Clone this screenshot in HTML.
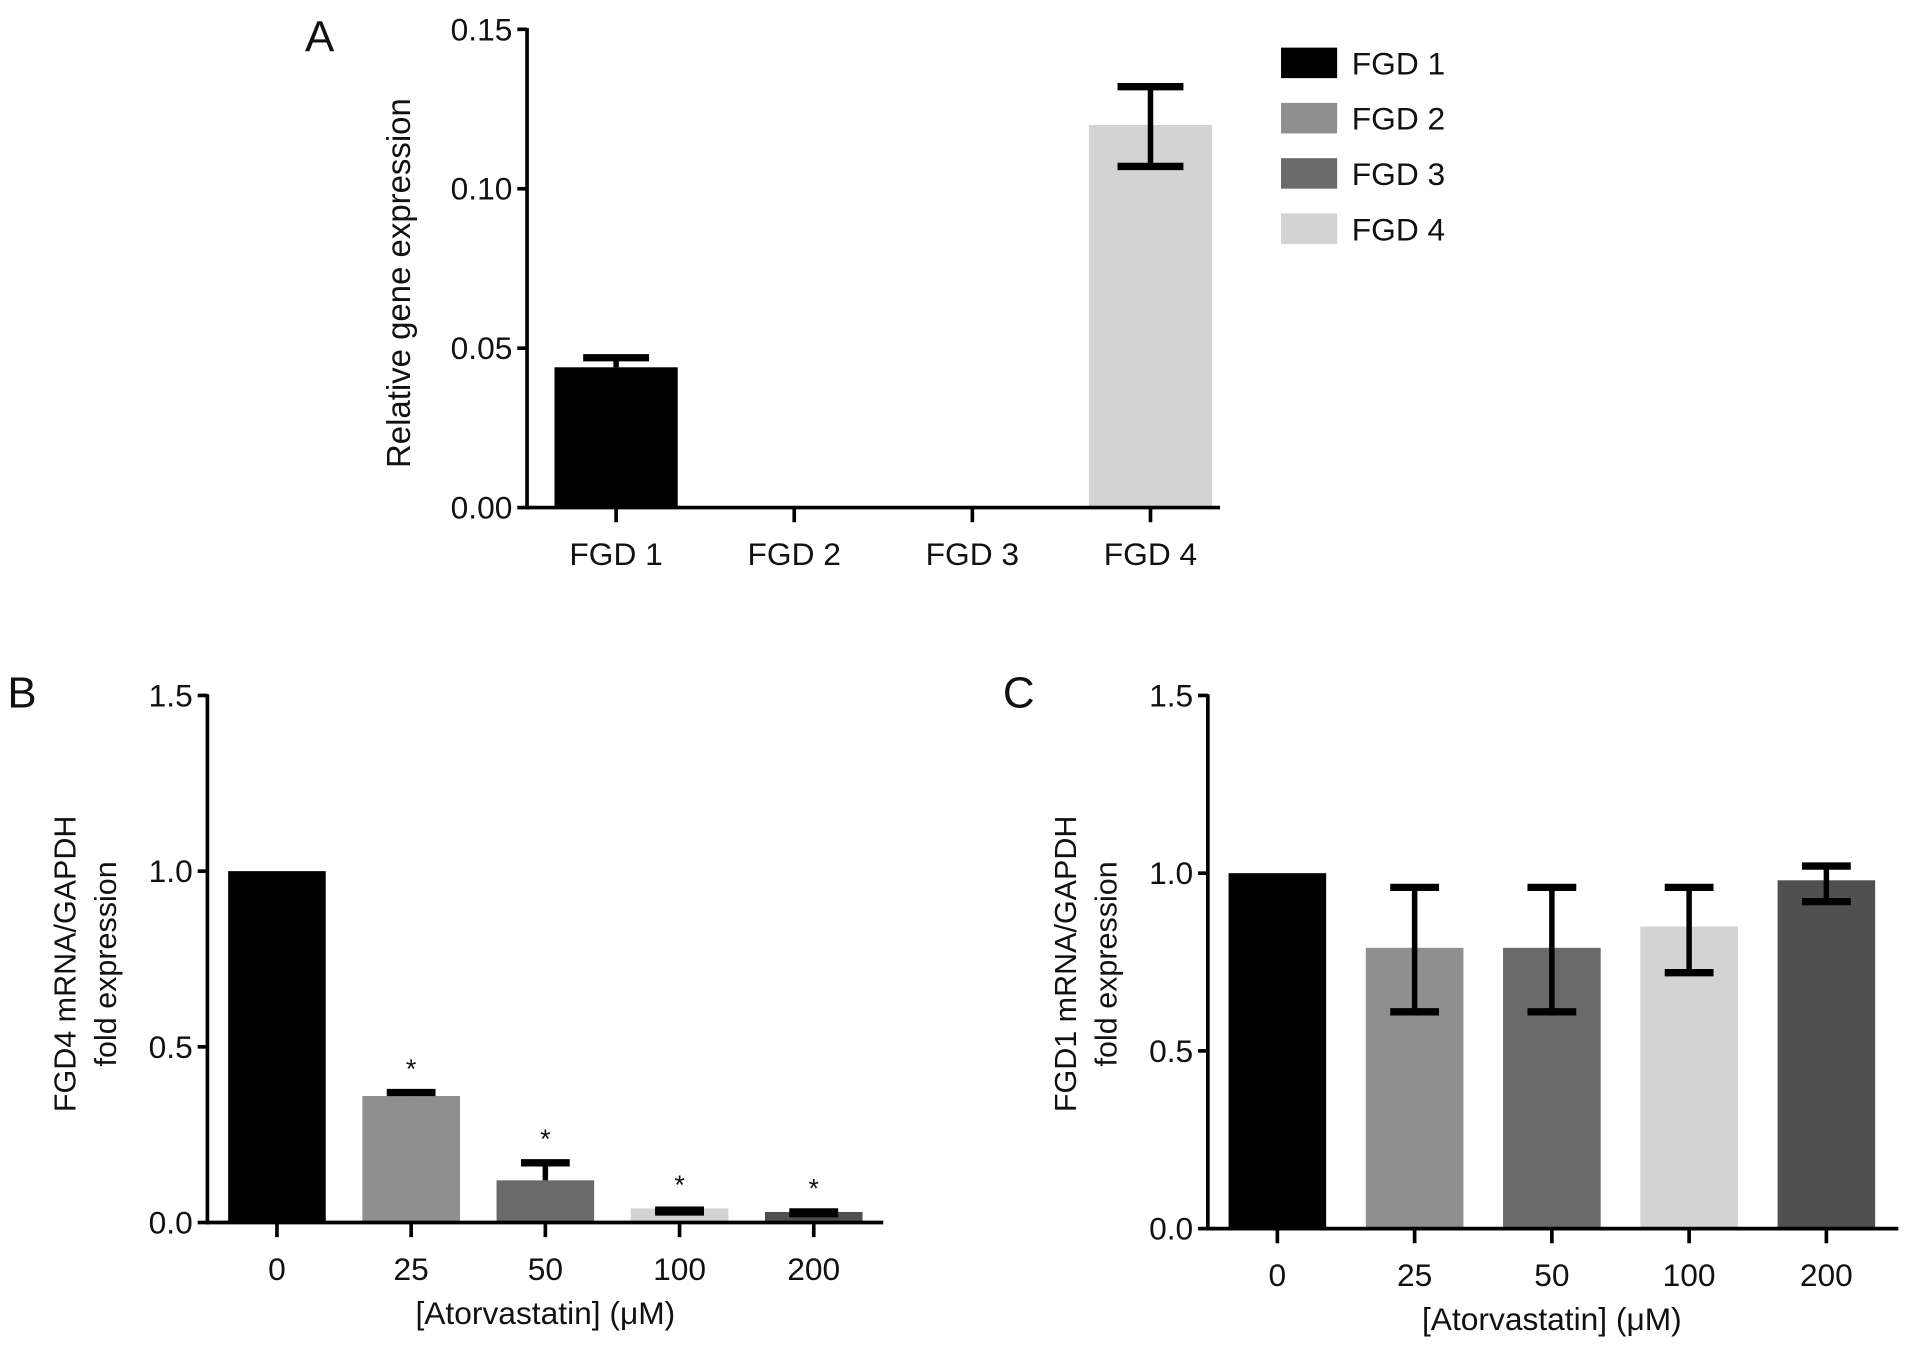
<!DOCTYPE html>
<html><head><meta charset="utf-8"><style>
html,body{margin:0;padding:0;background:#fff}
svg{display:block}
text{font-family:"Liberation Sans",Arial,sans-serif;fill:#111}
</style></head><body>
<svg id="fig" width="1913" height="1347" viewBox="0 0 1568 1104" xmlns="http://www.w3.org/2000/svg"></svg>
<script>
// Panel A data
const aCats = ["FGD 1","FGD 2","FGD 3","FGD 4"];
const aVals = [0.044, 0, 0, 0.120];
const aErrLo = [0.044, 0, 0, 0.107];
const aErrHi = [0.047, 0, 0, 0.132];
const aTicks = [0, 0.05, 0.10, 0.15];
const aTickLabels = ["0.00","0.05","0.10","0.15"];
const aColors = ["#000000","#8f8f8f","#6a6a6a","#d3d3d3"];
// Panel B data
const bCats = ["0","25","50","100","200"];
const bVals = [1.0, 0.36, 0.12, 0.04, 0.03];
const bErrLo = [1.0, 0.36, 0.12, 0.03, 0.025];
const bErrHi = [1.0, 0.37, 0.17, 0.035, 0.03];
const bStars = [false, true, true, true, true];
// Panel C data
const cCats = ["0","25","50","100","200"];
const cVals = [1.0, 0.79, 0.79, 0.85, 0.98];
const cErrLo = [1.0, 0.61, 0.61, 0.72, 0.92];
const cErrHi = [1.0, 0.96, 0.96, 0.96, 1.02];
const bcTicks = [0, 0.5, 1.0, 1.5];
const bcTickLabels = ["0.0","0.5","1.0","1.5"];
const bcColors = ["#000000","#8f8f8f","#6a6a6a","#d3d3d3","#505050"];

const NS="http://www.w3.org/2000/svg";
const svg=document.getElementById('fig');
function mk(tag,attrs,parent,txt){const e=document.createElementNS(NS,tag);for(const k in attrs)e.setAttribute(k,attrs[k]);if(txt!==undefined)e.textContent=txt;(parent||svg).appendChild(e);return e;}

function panel(o){
  const g=mk('g',{});
  
  
  const y=v=>o.y0-(v/o.ymax)*(o.y0-o.y1);
  const x=i=>o.xc0+i*o.dx;
  o.vals.forEach((v,i)=>{
    if(v<=0)return;
    const r=mk('rect',{x:x(i)-o.bw/2,y:y(v),width:o.bw,height:o.y0-y(v),fill:o.colors[i]},g);
    
    
    if(o.hi[i]>v+1e-9||o.lo[i]<v-1e-9){
      const e=mk('g',{stroke:'#000','stroke-width':4.5,fill:'none'},g);
      
      
      mk('line',{x1:x(i),x2:x(i),y1:y(o.hi[i]),y2:y(Math.min(o.lo[i],v))},e);
      mk('line',{x1:x(i)-o.cap,x2:x(i)+o.cap,y1:y(o.hi[i]),y2:y(o.hi[i]),'stroke-width':6},e);
      if(o.lo[i]<v-1e-9) mk('line',{x1:x(i)-o.cap,x2:x(i)+o.cap,y1:y(o.lo[i]),y2:y(o.lo[i]),'stroke-width':6},e);
    }
    if(o.stars&&o.stars[i]){
      const s=mk('text',{x:x(i),y:y(Math.max(o.hi[i],v))-12,'font-size':22,'text-anchor':'middle'},g,'*');
      
      
    }
  });
  const ax=mk('g',{stroke:'#000','stroke-width':3},g);
  
  
  mk('line',{x1:o.ax,x2:o.ax,y1:o.y1-1,y2:o.y0+1.5},ax);
  mk('line',{x1:o.ax-1.5,x2:o.xend,y1:o.y0,y2:o.y0},ax);
  o.ticks.forEach((t,k)=>{
    mk('line',{x1:o.ax-8,x2:o.ax,y1:y(t),y2:y(t)},ax);
    const tl=mk('text',{x:o.ax-12,y:y(t)+9,'font-size':26,'text-anchor':'end'},g,o.tickLabels[k]);
    
    
  });
  o.cats.forEach((c,i)=>{
    mk('line',{x1:x(i),x2:x(i),y1:o.y0,y2:o.y0+12},ax);
    const tl=mk('text',{x:x(i),y:o.y0+47,'font-size':26,'text-anchor':'middle'},g,c);
    
    
  });
  o.ytitle.forEach((t,k)=>{
    const tx=o.ytx+k*33;
    const yt=mk('text',{x:tx,y:o.yty,'font-size':o.ytfs,'text-anchor':'middle',transform:`rotate(-90 ${tx} ${o.yty})`},g,t);
    
    
  });
  if(o.xtitle){
    const xt=mk('text',{x:x(2),y:o.y0+83,'font-size':26,'text-anchor':'middle'},g,o.xtitle);
    
    
  }
  const pl=mk('text',{x:o.lx,y:o.ly,'font-size':36},g,o.letter);
  
  
}

panel({name:'panel-a',cats:aCats,vals:aVals,lo:aErrLo,hi:aErrHi,colors:aColors,ticks:aTicks,tickLabels:aTickLabels,
  ymax:0.15,y0:416,y1:24,ax:432,xend:1000,xc0:505,dx:146,bw:101,cap:27,
  ytitle:["Relative gene expression"],ytfs:27,ytx:336,yty:232,letter:'A',lx:250,ly:42});
panel({name:'panel-b',cats:bCats,vals:bVals,lo:bErrLo,hi:bErrHi,colors:bcColors,ticks:bcTicks,tickLabels:bcTickLabels,stars:bStars,
  ymax:1.5,y0:1002,y1:570,ax:170,xend:724,xc0:227,dx:110,bw:80,cap:20,
  ytitle:["FGD4 mRNA/GAPDH","fold expression"],ytfs:25,ytx:62,yty:790,xtitle:"[Atorvastatin] (μM)",letter:'B',lx:6,ly:580});
panel({name:'panel-c',cats:cCats,vals:cVals,lo:cErrLo,hi:cErrHi,colors:bcColors,ticks:bcTicks,tickLabels:bcTickLabels,
  ymax:1.5,y0:1007,y1:570,ax:990,xend:1556,xc0:1047,dx:112.5,bw:80,cap:20,
  ytitle:["FGD1 mRNA/GAPDH","fold expression"],ytfs:25,ytx:882,yty:790,xtitle:"[Atorvastatin] (μM)",letter:'C',lx:822,ly:580});

const lg=mk('g',{});


aCats.forEach((c,i)=>{
  const cy=51+i*45.3;
  const e=mk('g',{},lg);
  
  
  mk('rect',{x:1050,y:cy-12,width:46,height:25,fill:aColors[i]},e);
  mk('text',{x:1108,y:cy+10,'font-size':26},e,c);
});
</script>
</body></html>
